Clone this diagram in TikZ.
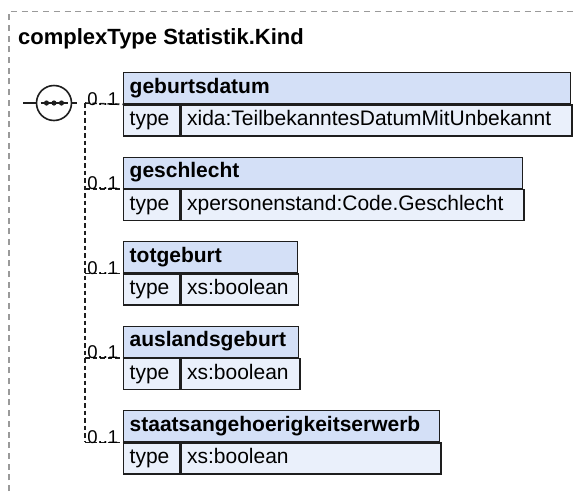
\documentclass[tikz,border=0pt]{standalone}
\usepackage{fontspec}
\setmainfont{Liberation Sans}
\usepackage{xcolor}
\usetikzlibrary{positioning}
\definecolor{headblue}{HTML}{D4E0F7}
\definecolor{rowblue}{HTML}{EAF0FB}
\definecolor{framegray}{HTML}{9A9A9A}
\definecolor{linedark}{HTML}{1E1E1E}
\begin{document}
\begin{tikzpicture}[x=1pt, y=-1pt,
    elhead/.style={rectangle, draw=linedark, line width=1.4pt, fill=headblue, anchor=north west, align=left, inner xsep=6pt, inner ysep=0pt, minimum height=31pt, text height=15pt, text depth=4.5pt, font=\fontsize{21}{25}\selectfont\bfseries},
    elcell/.style={rectangle, draw=linedark, line width=1.4pt, fill=rowblue, align=left, inner xsep=6pt, inner ysep=0pt, minimum height=31pt, text height=15pt, text depth=4.5pt, font=\fontsize{21}{25}\selectfont},
    conn/.style={draw=linedark, line width=1.6pt, dash pattern=on 4.5pt off 3pt},
    mult/.style={font=\fontsize{18.5}{20}\selectfont, inner sep=0pt, pos=1, anchor=south east, xshift=-4pt, yshift=-2pt}]
    \useasboundingbox (0,0) rectangle (574,491);
    % rahmen
    \draw [framegray, line width=1.5pt, dash pattern=on 6pt off 4.7pt] (9,491) -- (9,11.5) -- (574,11.5);
    \node (title) [anchor=base west, inner sep=0pt, font=\fontsize{22}{26}\selectfont\bfseries] at (18,44) {complexType Statistik.Kind};

    % sequenz
    \node (seq) [circle, draw=linedark, line width=1.6pt, fill=white, minimum size=35pt, inner sep=0pt] at (54,103) {};
    \draw [linedark, line width=1.6pt] (seq.center) +(-13.5,0) -- +(13.5,0);
    \fill [linedark] (seq.center) +(-7.5,0) circle (2.6) +(0,0) circle (2.6) +(7.5,0) circle (2.6);
    \coordinate (in) at (23,103);
    \coordinate (out) at (77,103);
    \coordinate (trunk) at (85,103);
    \draw [linedark, line width=1.5pt] (in) -- (seq.west);
    \draw [linedark, line width=1.5pt] (seq.east) -- (out);

    % elemente
    \node (geb) [elhead, text width=435pt] at (123,72) {geburtsdatum};
    \node (gebT) [elcell, text width=44pt, below right=0pt and 0pt of geb.south west] {type};
    \node (gebV) [elcell, text width=379pt, right=0pt of gebT] {xida:TeilbekanntesDatumMitUnbekannt};

    \node (geschl) [elhead, text width=387pt] at (123,156.5) {geschlecht};
    \node (geschlT) [elcell, text width=44pt, below right=0pt and 0pt of geschl.south west] {type};
    \node (geschlV) [elcell, text width=331pt, right=0pt of geschlT] {xpersonenstand:Code.Geschlecht};

    \node (tot) [elhead, text width=161.5pt] at (123,241) {totgeburt};
    \node (totT) [elcell, text width=44pt, below right=0pt and 0pt of tot.south west] {type};
    \node (totV) [elcell, text width=105.5pt, right=0pt of totT] {xs:boolean};

    \node (ausl) [elhead, text width=163pt] at (123,325.5) {auslandsgeburt};
    \node (auslT) [elcell, text width=44pt, below right=0pt and 0pt of ausl.south west] {type};
    \node (auslV) [elcell, text width=107pt, right=0pt of auslT] {xs:boolean};

    \node (staat) [elhead, text width=304pt] at (123,410) {staatsangehoerigkeitserwerb};
    \node (staatT) [elcell, text width=44pt, below right=0pt and 0pt of staat.south west] {type};
    \node (staatV) [elcell, text width=248pt, right=0pt of staatT] {xs:boolean};

    % verbindungen
    \draw [conn] (trunk) -- (staat.south west -| trunk);
    \draw [conn] (trunk) -- node [mult] {0..1} (geb.south west);
    \draw [conn] (geschl.south west -| trunk) -- node [mult] {0..1} (geschl.south west);
    \draw [conn] (tot.south west -| trunk) -- node [mult] {0..1} (tot.south west);
    \draw [conn] (ausl.south west -| trunk) -- node [mult] {0..1} (ausl.south west);
    \draw [conn] (staat.south west -| trunk) -- node [mult] {0..1} (staat.south west);
\end{tikzpicture}
\end{document}
